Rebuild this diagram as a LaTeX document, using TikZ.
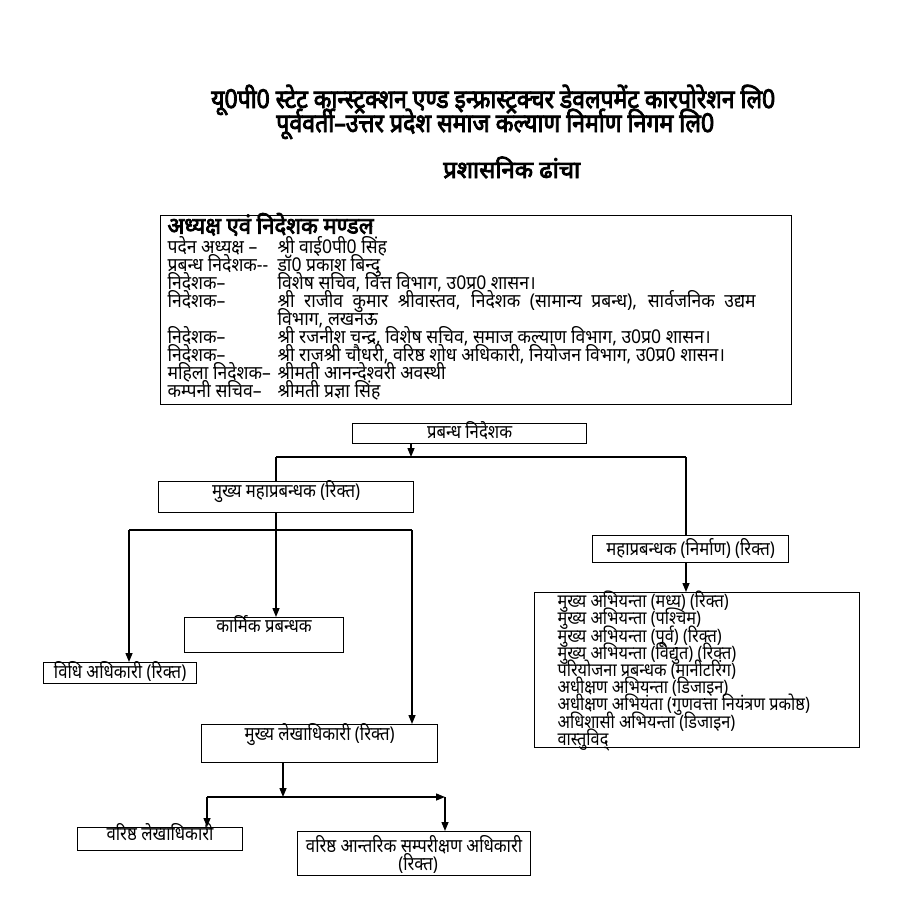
\documentclass[tikz,border=0pt]{standalone}
\usepackage{graphicx}
\usepackage{fontspec}
\setmainfont{Noto Sans}[Script=Devanagari,FakeStretch=0.88]
\newfontfamily\hb{Noto Sans}[Script=Devanagari,FakeBold=3.5]
\newfontfamily\bd{Noto Sans}[Script=Devanagari,FakeStretch=0.925]
\usetikzlibrary{arrows.meta}
\newcommand\lbl[1]{\makebox[110pt][l]{#1}}
\newcommand\fitw[2]{\resizebox{#1}{\height}{#2}}
\begin{document}
\begin{tikzpicture}[x=1pt,y=-1pt,
  bx/.style={draw, line width=1.2pt, rectangle, inner sep=0pt, anchor=north west, font=\fontsize{19}{17}\selectfont},
  ln/.style={line width=1.4pt},
  arr/.style={line width=1.4pt, -{Triangle[width=7pt,length=9pt]}},
  ttl/.style={anchor=base west, inner sep=0pt, font=\hb\fontsize{26}{28}\selectfont}]
\useasboundingbox (0,0) rectangle (900,915);
\fill[white] (0,0) rectangle (900,915);

% titles
\node[ttl] (t1) at (211,108) {\fitw{564pt}{यू0पी0 स्टेट कान्स्ट्रक्शन एण्ड इन्फ्रास्ट्रक्चर डेवलपमेंट कारपोरेशन लि0}};
\node[ttl] (t2) at (276,132) {\fitw{438pt}{पूर्ववर्ती–उत्तर प्रदेश समाज कल्याण निर्माण निगम लि0}};
\node[ttl, font=\hb\fontsize{24}{28}\selectfont] (t3) at (443,178) {\fitw{137pt}{प्रशासनिक ढांचा}};

% board
\node[bx, minimum width=631pt, inner xsep=7pt, text height=18pt, text depth=171pt] (board) at (160,215)
{\parbox[t]{617pt}{\bd\fontsize{19}{18}\selectfont\lineskiplimit=-50pt\lineskip=0pt
{\hb\fontsize{23}{18}\selectfont\fitw{206pt}{अध्यक्ष एवं निदेशक मण्डल}}\\[2pt]
\lbl{पदेन अध्यक्ष –}श्री वाई0पी0 सिंह\\
\lbl{प्रबन्ध निदेशक-{}-}डॉ0 प्रकाश बिन्दु\\
\lbl{निदेशक–}विशेष सचिव, वित्त विभाग, उ0प्र0 शासन।\\
\lbl{निदेशक–}\makebox[478pt][s]{श्री राजीव कुमार श्रीवास्तव, निदेशक (सामान्य प्रबन्ध), सार्वजनिक उद्यम}\\
\lbl{}विभाग, लखनऊ\\
\lbl{निदेशक–}श्री रजनीश चन्द्र, विशेष सचिव, समाज कल्याण विभाग, उ0प्र0 शासन।\\
\lbl{निदेशक–}श्री राजश्री चौधरी, वरिष्ठ शोध अधिकारी, नियोजन विभाग, उ0प्र0 शासन।\\
\lbl{महिला निदेशक–}श्रीमती आनन्देश्वरी अवस्थी\\
\lbl{कम्पनी सचिव–}श्रीमती प्रज्ञा सिंह}};

% boxes
\node[bx, minimum width=234pt, text height=15pt, text depth=5pt] (md) at (352,423) {प्रबन्ध निदेशक};
\node[bx, minimum width=255pt, text height=16pt, text depth=15pt] (cgm) at (158,481) {मुख्य महाप्रबन्धक (रिक्त)};
\node[bx, minimum width=196pt, text height=20pt, text depth=7pt] (gmc) at (592,535) {महाप्रबन्धक (निर्माण) (रिक्त)};
\node[bx, minimum width=325pt, inner xsep=23pt, text height=15pt, text depth=140pt] (list) at (534,592)
{\parbox[t]{279pt}{\fontsize{18.5}{17.2}\selectfont\lineskiplimit=-50pt\lineskip=0pt
मुख्य अभियन्ता (मध्य) (रिक्त)\\
मुख्य अभियन्ता (पश्चिम)\\
मुख्य अभियन्ता (पूर्व) (रिक्त)\\
मुख्य अभियन्ता (विद्युत) (रिक्त)\\
परियोजना प्रबन्धक (मानीटरिंग)\\
अधीक्षण अभियन्ता (डिजाइन)\\
अधीक्षण अभियंता (गुणवत्ता नियंत्रण प्रकोष्ठ)\\
अधिशासी अभियन्ता (डिजाइन)\\
वास्तुविद्}};
\node[bx, minimum width=159pt, text height=15pt, text depth=20pt] (karmik) at (184,617) {कार्मिक प्रबन्धक};
\node[bx, minimum width=153pt, text height=16pt, text depth=5pt] (vidhi) at (43,662) {विधि अधिकारी (रिक्त)};
\node[bx, minimum width=236pt, text height=16pt, text depth=22pt] (mla) at (201,724) {मुख्य लेखाधिकारी (रिक्त)};
\node[bx, minimum width=165pt, text height=13pt, text depth=10pt] (vla) at (77,827) {वरिष्ठ लेखाधिकारी};
\node[bx, minimum width=233pt, text height=21pt, text depth=23pt] (vaa) at (297,831)
{\parbox[t]{233pt}{\centering\fontsize{19}{18}\selectfont\lineskiplimit=-50pt\lineskip=0pt वरिष्ठ आन्तरिक सम्परीक्षण अधिकारी\\\hspace*{8pt}(रिक्त)}};

% junctions
\coordinate (j0) at (411,457);
\coordinate (jl) at (276,457);
\coordinate (jr) at (686,457);
\coordinate (k1) at (129,530);
\coordinate (k2) at (412,530);
\coordinate (m0) at (283,797);
\coordinate (m1) at (207,797);
\coordinate (m2) at (445,797);

% connectors
\draw[arr] (md.south -| j0) -- (j0);
\draw[ln] (jl) -- (jr);
\draw[ln] (jl) -- (cgm.north -| jl);
\draw[ln] (jr) -- (gmc.north -| jr);
\draw[arr] (gmc.south -| jr) -- (list.north -| jr);
\draw[arr] (cgm.south -| jl) -- (karmik.north -| jl);
\draw[ln] (k1) -- (k2);
\draw[arr] (k1) -- (vidhi.north -| k1);
\draw[arr] (k2) -- (mla.north -| k2);
\draw[arr] (mla.south -| m0) -- (m0);
\draw[ln] (m1) -- (m0);
\draw[arr] (m0) -- (m2);
\draw[arr] (m1) -- (vla.north -| m1);
\draw[arr] (m2) -- (vaa.north -| m2);
\end{tikzpicture}
\end{document}
